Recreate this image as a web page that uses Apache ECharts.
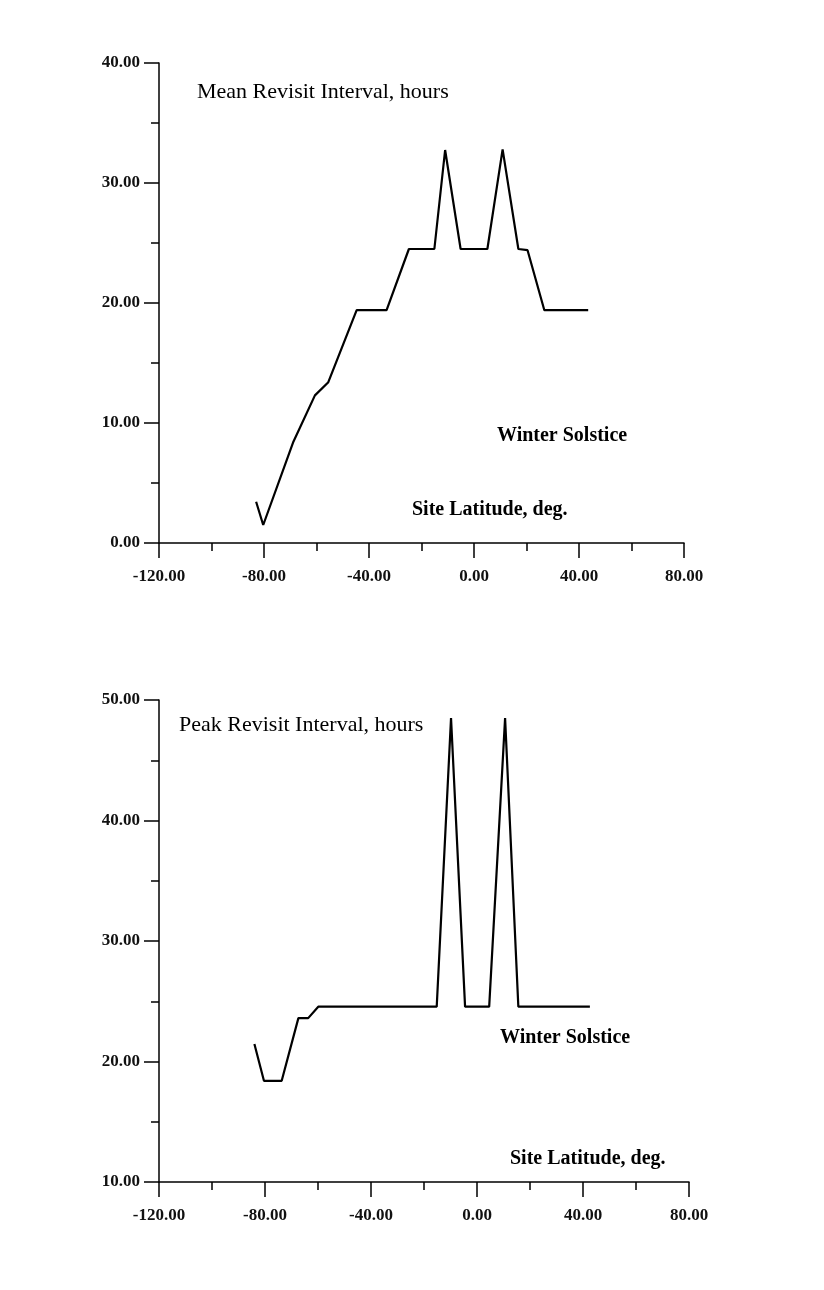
<!DOCTYPE html>
<html>
<head>
<meta charset="utf-8">
<script src="https://cdn.jsdelivr.net/npm/echarts@6/dist/echarts.min.js"></script>
<style>
html,body{margin:0;padding:0;background:#fff;}
#chart{width:824px;height:1290px;}
</style>
</head>
<body>
<div id="chart"></div>
<script>
// Top panel: Mean revisit interval (latitude deg, hours)
var meanLat   = [-83.0, -80.3, -68.8, -60.6, -55.5, -44.7, -33.3, -24.8, -15.1, -11.0, -5.1, 5.1, 10.9, 16.9, 20.4, 26.8, 43.5];
var meanHours = [3.44, 1.5, 8.44, 12.3, 13.4, 19.4, 19.4, 24.5, 24.5, 32.75, 24.5, 24.5, 32.8, 24.5, 24.4, 19.4, 19.4];
// Bottom panel: Peak revisit interval
var peakLat   = [-84.0, -80.4, -73.7, -67.4, -63.7, -59.9, -15.2, -9.8, -4.5, 4.6, 10.6, 15.6, 42.6];
var peakHours = [21.45, 18.4, 18.4, 23.6, 23.6, 24.55, 24.55, 48.5, 24.55, 24.55, 48.5, 24.55, 24.55];

var titles = {
  mean: 'Mean Revisit Interval, hours',
  peak: 'Peak Revisit Interval, hours',
  season: 'Winter Solstice',
  xName: 'Site Latitude, deg.'
};

function pairs(xs, ys){ return xs.map(function(x,i){ return [x, ys[i]]; }); }

var FONT = '"Liberation Serif", "Times New Roman", serif';
var lblStyle = {color:'#111', fontFamily:FONT, fontWeight:'bold', fontSize:17,
  formatter:function(v){ return v.toFixed(2); }};

function xAx(gi){
  return {type:'value', gridIndex:gi, min:-120, max:80, interval:40,
    axisLine:{show:true, onZero:false, lineStyle:{color:'#000', width:1.5}},
    axisTick:{show:true, inside:false, length:15, lineStyle:{color:'#000', width:1.5}},
    minorTick:{show:true, splitNumber:2, length:8, lineStyle:{color:'#000', width:1.5}},
    splitLine:{show:false},
    axisLabel:Object.assign({margin:25}, lblStyle)};
}
function yAx(gi, mn, mx){
  return {type:'value', gridIndex:gi, min:mn, max:mx, interval:10,
    axisLine:{show:true, onZero:false, lineStyle:{color:'#000', width:1.5}},
    axisTick:{show:true, inside:false, length:15, lineStyle:{color:'#000', width:1.5}},
    minorTick:{show:true, splitNumber:2, length:8, lineStyle:{color:'#000', width:1.5}},
    splitLine:{show:false},
    axisLabel:Object.assign({margin:19}, lblStyle)};
}

function txt(x, y, s, size, bold){
  return {type:'text', left:x, top:y - size/2 - 1,
    style:{text:s, fill:'#000', font:(bold?'bold ':'') + size + 'px ' + FONT}};
}

var chart = echarts.init(document.getElementById('chart'), null, {renderer:'canvas'});
chart.setOption({
  backgroundColor:'#fff',
  animation:false,
  grid:[
    {left:159, top:63, width:525, height:480},
    {left:159, top:700, width:530, height:482}
  ],
  xAxis:[xAx(0), xAx(1)],
  yAxis:[yAx(0, 0, 40), yAx(1, 10, 50)],
  series:[
    {type:'line', xAxisIndex:0, yAxisIndex:0, data:pairs(meanLat, meanHours),
     showSymbol:false, lineStyle:{color:'#000', width:2.2}},
    {type:'line', xAxisIndex:1, yAxisIndex:1, data:pairs(peakLat, peakHours),
     showSymbol:false, lineStyle:{color:'#000', width:2.2}}
  ],
  graphic:[
    txt(197, 93, titles.mean, 22, false),
    txt(497, 437, titles.season, 20, true),
    txt(412, 511, titles.xName, 20, true),
    txt(179, 726, titles.peak, 22, false),
    txt(500, 1039, titles.season, 20, true),
    txt(510, 1160, titles.xName, 20, true)
  ]
});
</script>
</body>
</html>
